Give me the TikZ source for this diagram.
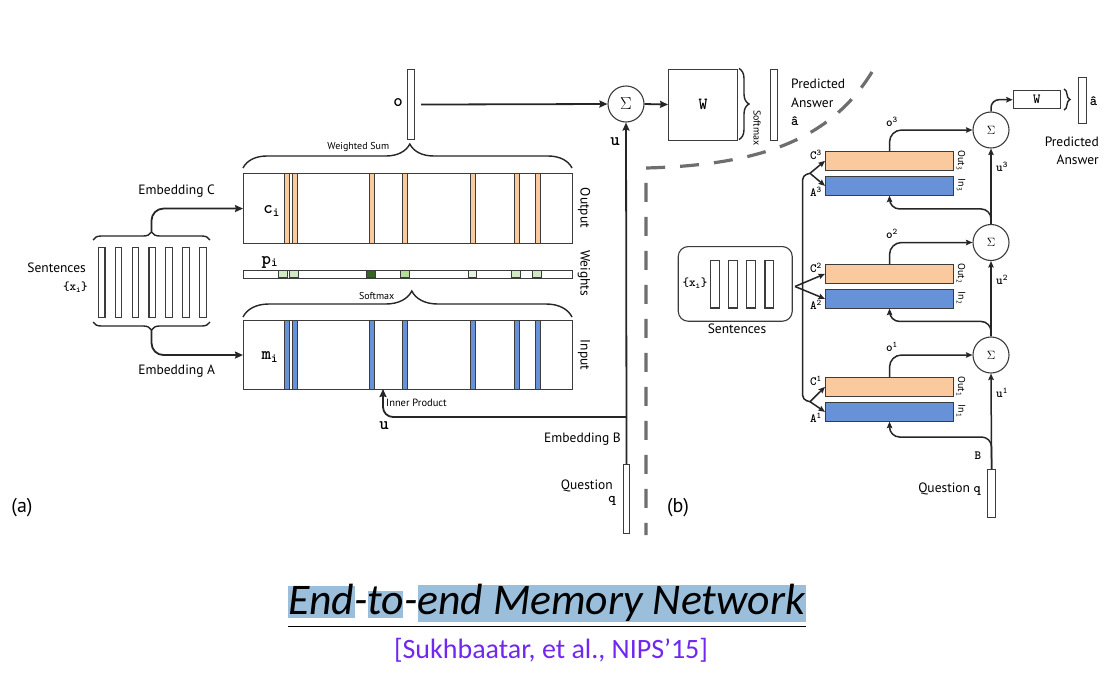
\documentclass[tikz,border=0pt]{standalone}
\usepackage{fontspec}
\setmainfont{PT Sans}
\newfontfamily\slidefont{Carlito}
\newfontfamily\ttdark{lmmonolt10-bold.otf}
\usetikzlibrary{arrows.meta,decorations.pathreplacing,calc}

\definecolor{orangebar}{RGB}{250,202,158}
\definecolor{bluebar}{RGB}{104,146,216}
\definecolor{gvlight}{RGB}{228,242,222}
\definecolor{glight}{RGB}{210,233,198}
\definecolor{gmid}{RGB}{182,222,155}
\definecolor{gdark}{RGB}{52,100,32}
\definecolor{framegray}{RGB}{60,60,60}
\definecolor{dashgray}{RGB}{110,110,110}
\definecolor{hilite}{RGB}{155,191,218}
\definecolor{citeviolet}{RGB}{112,40,240}

\begin{document}
\begin{tikzpicture}[x=1pt,y=-1pt,
  box/.style={draw=framegray, line width=1.1pt, inner sep=0pt, anchor=north west},
  arr/.style={draw=black!85, line width=1.8pt, -{Stealth[length=8pt,width=7pt,inset=1pt]}},
  arrb/.style={draw=black!85, line width=1.5pt, -{Stealth[length=6.5pt,width=5.5pt,inset=1pt]}},
  conn/.style={draw=black!85, line width=1.5pt},
  bracedraw/.style={draw=black!85, line width=1.4pt, decorate},
  lab/.style={font=\fontsize{13.5}{15}\selectfont, inner sep=0pt},
  sm/.style={font=\fontsize{10}{12}\selectfont, inner sep=0pt},
  ttbig/.style={font=\fontsize{18}{20}\selectfont\ttdark, inner sep=0pt},
  ttmid/.style={font=\fontsize{14}{16}\selectfont\ttdark, inner sep=0pt},
  ttsm/.style={font=\fontsize{12.5}{14}\selectfont\ttdark, inner sep=0pt},
  sigbig/.style={circle, draw=framegray, line width=1.1pt, minimum size=36pt, inner sep=0pt, font=\fontsize{16}{18}\selectfont},
  sigsmall/.style={circle, draw=framegray, line width=1.1pt, minimum size=36pt, inner sep=0pt, font=\fontsize{11.5}{13}\selectfont},
  stripe/.style={draw=framegray, line width=0.5pt},
]
\useasboundingbox (0,0) rectangle (1106,675);
\fill[white] (0,0) rectangle (1106,675);

% ---------------- (a) single layer ----------------
% sentences {x_i}
\foreach \i in {0,...,6}
  \node[box, minimum width=6.7pt, minimum height=70pt] (s\i) at ({97.7+16.9*\i},247) {};
\node[lab, anchor=east] at (86,268) {Sentences};
\node[ttsm, anchor=east] at (88,287) {\{x\textsubscript{i}\}};

% braces over and under the sentences
\draw[bracedraw, decoration={brace, amplitude=8pt}] (93,240) -- (210,240);
\draw[bracedraw, decoration={brace, amplitude=8pt}] (210,322) -- (93,322);
\coordinate (tipC) at (151.5,232);
\coordinate (tipA) at (151.5,330);

% memory blocks
\node[box, minimum width=329pt, minimum height=70pt] (outbox) at (243,173) {};
\node[box, minimum width=329pt, minimum height=7.7pt] (wbar) at (243,270) {};
\node[box, minimum width=329pt, minimum height=69pt] (inbox) at (243,320) {};

\foreach \x in {284.3,292.7,369.3,402.7,470.7,514.3,535} {
  \draw[stripe, fill=orangebar] (\x,173) rectangle ++(5,70);
  \draw[stripe, fill=bluebar] (\x,320) rectangle ++(5,69);
}
\foreach \x/\w/\c in {278.3/9/glight, 289.3/9/glight, 366.7/9/gdark, 400.7/8.6/gmid,
                      468.3/8.4/gvlight, 511.7/8.3/glight, 532.7/9/glight}
  \draw[stripe, fill=\c] (\x,270) rectangle ++(\w,7.7);

\node[ttbig] at (271.7,211) {c\textsubscript{i}};
\node[ttbig] at (270,262) {p\textsubscript{i}};
\node[ttbig] at (270,357) {m\textsubscript{i}};

\node[lab, rotate=-90] at (584,208) {Output};
\node[lab, rotate=-90] at (584,273) {Weights};
\node[lab, rotate=-90] at (584,355) {Input};

\draw[arr, rounded corners=12] (tipC) |- (outbox.west);
\draw[arr, rounded corners=12] (tipA) |- (inbox.west);
\node[lab] at (176.7,191.5) {Embedding C};
\node[lab] at (176.7,371.5) {Embedding A};

% weighted sum and softmax braces
\draw[bracedraw, decoration={brace, amplitude=24pt, aspect=0.507}] (243,168) -- (572,168);
\node[sm] at (358.3,147) {Weighted Sum};
\draw[bracedraw, decoration={brace, amplitude=26pt, aspect=0.513}] (243,317) -- (572,317);
\node[sm] at (376.7,295.5) {Softmax};

% output vector, sum, final weight matrix
\node[box, minimum width=7.3pt, minimum height=70pt] (ovec) at (406.7,69) {};
\node[ttbig] at (398,103) {o};
\node[sigbig] (sig) at (626,104) {$\Sigma$};
\node[box, minimum width=69pt, minimum height=71pt, font=\fontsize{17}{19}\selectfont\ttdark] (Wbig) at (668,68.5) {W};
\draw[bracedraw, decoration={brace, amplitude=10pt}] (739,68.5) -- (739,139.5);
\node[sm, rotate=-90] at (757,128) {Softmax};
\node[box, minimum width=7.3pt, minimum height=71pt] (ahat) at (770,68.5) {};
\node[lab, anchor=west] at (791,84) {Predicted};
\node[lab, anchor=west] at (791,103) {Answer};
\node[ttmid, anchor=west] at (791,121) {â};

\draw[arr, shorten <=6pt] (ovec.east) -- (sig.west);
\draw[arr] (sig.east) -- (Wbig.west);

% question and its embedding
\node[box, minimum width=6.6pt, minimum height=69pt] (qvec) at (622.7,464) {};
\draw[arr] (qvec.north) -- (sig.south);
\coordinate (junc) at (626,417);
\coordinate (ipend) at (383,389);
\draw[arr, rounded corners=10] (junc) -| (ipend);
\node[ttbig] at (615,142) {u};
\node[ttbig] at (384,426) {u};
\node[sm, anchor=west, font=\fontsize{10.5}{12}\selectfont] at (386,403) {Inner Product};
\node[lab, anchor=east] at (621,439) {Embedding B};
\node[lab, anchor=east] at (613,486) {Question};
\node[ttmid, anchor=east] at (616,501) {q};

\node[font=\fontsize{20}{22}\selectfont] at (22,508) {(a)};
\node[font=\fontsize{20}{22}\selectfont] at (678,508) {(b)};

% separator between the two panels
\draw[dashgray, line width=3.2pt, dash pattern=on 19pt off 15pt]
  (872,72) .. controls (830,140) and (760,165) .. (646,168) -- (646,535);

% ---------------- (b) three hops ----------------
\foreach \k/\yc in {3/151,2/264,1/377} {
  \node[box, fill=orangebar, minimum width=128pt, minimum height=18.6pt] (C\k) at (825,\yc) {};
  \node[box, fill=bluebar, minimum width=128pt, minimum height=18.6pt] (A\k) at (825,{\yc+25}) {};
  \node[sm, rotate=-90] at (961,{\yc+9.5}) {Out\textsubscript{\k}};
  \node[sm, rotate=-90] at (961,{\yc+34}) {In\textsubscript{\k}};
  \node[ttsm, anchor=east] at (822,{\yc+4}) {C\textsuperscript{\k}};
  \node[ttsm, anchor=east] at (822,{\yc+41}) {A\textsuperscript{\k}};
}
\node[sigsmall] (S3) at (991,130) {$\Sigma$};
\node[sigsmall] (S2) at (991,242.5) {$\Sigma$};
\node[sigsmall] (S1) at (991,355) {$\Sigma$};

\node[box, minimum width=8.6pt, minimum height=47.5pt] (Q) at (986.7,469) {};
\node[box, minimum width=47.3pt, minimum height=18.3pt, font=\fontsize{14}{16}\selectfont\ttdark] (Wsmall) at (1012.7,90) {W};
\draw[bracedraw, decoration={brace, amplitude=6pt}] (1064,89) -- (1064,110);
\node[box, minimum width=8.3pt, minimum height=46pt] (ahat2) at (1077.7,77) {};
\node[ttmid] at (1093.5,101) {â};
\node[lab, anchor=east] at (1099,142) {Predicted};
\node[lab, anchor=east] at (1099,159.5) {Answer};

% controller state path
\draw[arrb] (Q.north) -- (S1.south);
\draw[arrb] (S1.north) -- (S2.south);
\draw[arrb] (S2.north) -- (S3.south);
\draw[arrb, rounded corners=8] (S3.north) |- (Wsmall.west);
\draw[arrb, rounded corners=10] (Q.north) -- ++(0,-32) -| (A1.south);
\draw[arrb, rounded corners=10] (S1.north) -- ++(0,-15) -| (A2.south);
\draw[arrb, rounded corners=10] (S2.north) -- ++(0,-15) -| (A3.south);
\draw[arrb, rounded corners=12] (C1.north) |- (S1.west);
\draw[arrb, rounded corners=12] (C2.north) |- (S2.west);
\draw[arrb, rounded corners=12] (C3.north) |- (S3.west);

\node[ttsm] at (892,122) {o\textsuperscript{3}};
\node[ttsm] at (892,234) {o\textsuperscript{2}};
\node[ttsm] at (892,347) {o\textsuperscript{1}};
\node[ttsm, anchor=west] at (996,167) {u\textsuperscript{3}};
\node[ttsm, anchor=west] at (996,280) {u\textsuperscript{2}};
\node[ttsm, anchor=west] at (996,393) {u\textsuperscript{1}};
\node[ttsm] at (978,456) {B};
\node[lab, anchor=east] at (981,489) {Question {\ttdark q}};

% sentences feeding every hop
\node[draw=framegray, line width=1.1pt, rounded corners=10pt, minimum width=114pt, minimum height=74.7pt, anchor=north west, inner sep=0pt] (sentb) at (677.7,246) {};
\foreach \x in {710.7,728.7,746.7,765}
  \draw[draw=framegray, line width=1.1pt] (\x,260.7) rectangle ++(8.6,47.3);
\node[ttsm] at (695,283) {\{x\textsubscript{i}\}};
\node[lab] at (737,329) {Sentences};

\coordinate (f3) at (810,173.3);
\coordinate (f2) at (795,286.5);
\coordinate (f1) at (810,401.7);
\draw[conn, rounded corners=4] (f3) -- (802.7,175.5) -- (802.7,399.5) -- (f1);
\foreach \f/\k in {f3/3,f2/2,f1/1} {
  \draw[arrb] (\f) -- (C\k.west);
  \draw[arrb] (\f) -- (A\k.west);
}

% ---------------- caption ----------------
\fill[hilite] (288,586) rectangle (355,618);
\fill[hilite] (368,591) rectangle (403,618);
\fill[hilite] (418,585) rectangle (806,622);
\node[anchor=base west, inner sep=0pt, font=\slidefont\itshape\fontsize{43.7}{46}\selectfont] (title) at (288,614) {End-to-end Memory Network};
\draw[line width=1.3pt] (288,626.5) -- (806,626.5);
\node[font=\slidefont\fontsize{28}{30}\selectfont, text=citeviolet] (cite) at (551,650) {[Sukhbaatar, et al., NIPS’15]};
\end{tikzpicture}
\end{document}
